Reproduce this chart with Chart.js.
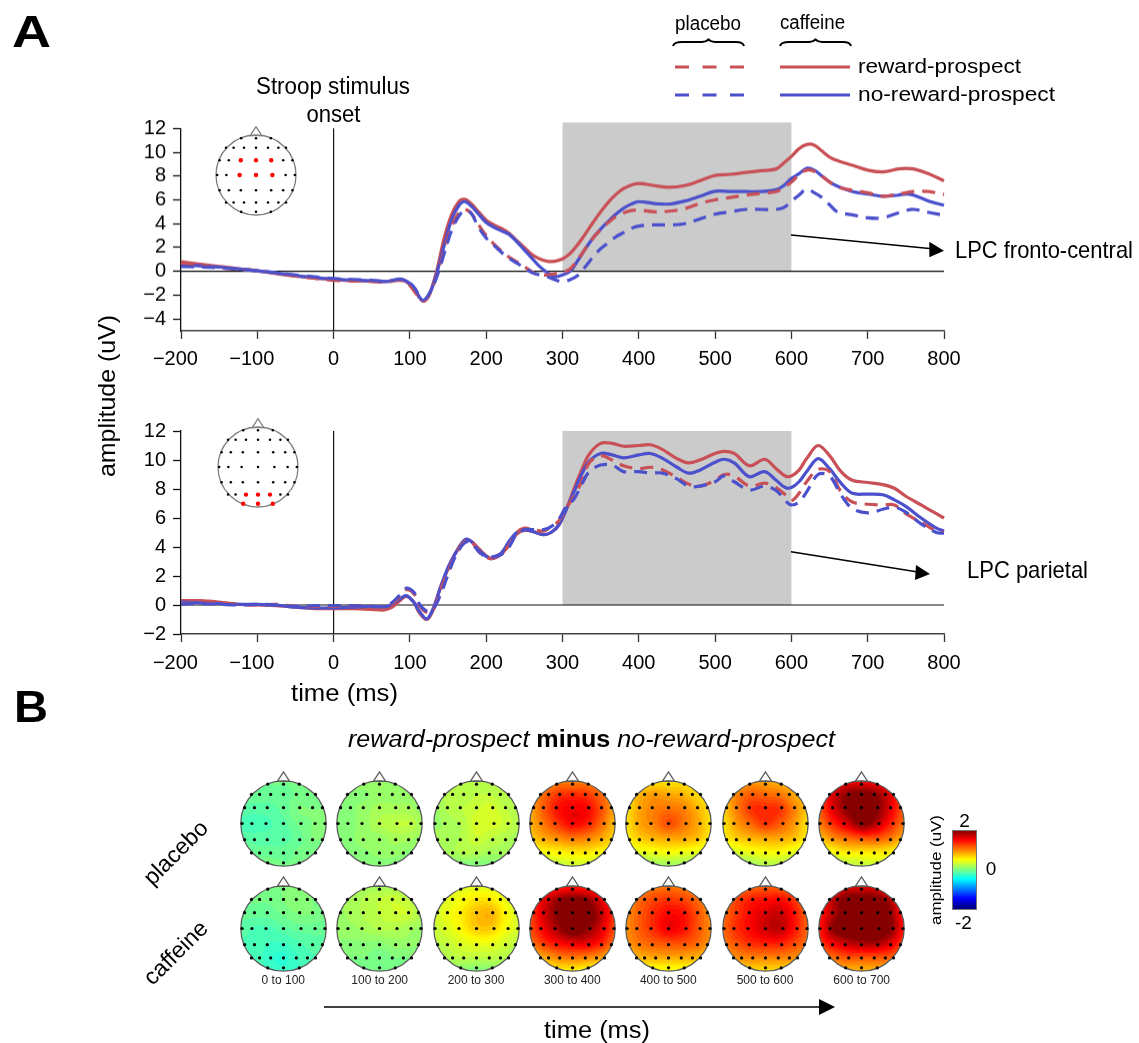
<!DOCTYPE html>
<html>
<head>
<meta charset="utf-8">
<title>Reward-prospect ERP figure</title>
<script src="https://cdn.jsdelivr.net/npm/chart.js@4"></script>
<style>
html,body{margin:0;padding:0;background:#fff;width:1139px;height:1043px;overflow:hidden}
canvas{position:absolute;display:block}
#cbar{outline:1px solid #777}
svg{position:absolute;left:0;top:0;pointer-events:none}
svg text{font-family:"Liberation Sans",Arial,sans-serif;fill:#000}
</style>
</head>
<body>
<canvas id="erpTop"></canvas>
<canvas id="erpBottom"></canvas>
<canvas id="cbar"></canvas>
<svg width="1139" height="1043" viewBox="0 0 1139 1043">
  <text x="12" y="47" font-size="45" font-weight="700" textLength="39" lengthAdjust="spacingAndGlyphs">A</text>
  <text x="14" y="722" font-size="45" font-weight="700" textLength="34" lengthAdjust="spacingAndGlyphs">B</text>

  <text x="675" y="30" font-size="20" textLength="66" lengthAdjust="spacingAndGlyphs">placebo</text>
  <text x="780" y="29" font-size="20" textLength="65" lengthAdjust="spacingAndGlyphs">caffeine</text>
  <path d="M673 46 Q674 42 682 42 L702 42 Q706 42 708.5 39.5 Q711 42 715 42 L736 42 Q743 42 744 46" fill="none" stroke="#000" stroke-width="2"/>
  <path d="M780 46 Q781 42 789 42 L809 42 Q813 42 815.5 39.5 Q818 42 822 42 L843 42 Q850 42 851 46" fill="none" stroke="#000" stroke-width="2"/>
  <line x1="675" y1="67" x2="744" y2="67" stroke="#c85056" stroke-width="3" stroke-dasharray="14 13.5"/>
  <line x1="675" y1="95" x2="744" y2="95" stroke="#4b50cc" stroke-width="3" stroke-dasharray="14 13.5"/>
  <line x1="780" y1="67" x2="850" y2="67" stroke="#c85056" stroke-width="3"/>
  <line x1="780" y1="95" x2="850" y2="95" stroke="#4b50cc" stroke-width="3"/>
  <text x="858" y="73" font-size="20.5" textLength="163" lengthAdjust="spacingAndGlyphs">reward-prospect</text>
  <text x="858" y="101" font-size="20.5" textLength="197" lengthAdjust="spacingAndGlyphs">no-reward-prospect</text>

  <text x="256" y="93.5" font-size="23.5" textLength="154" lengthAdjust="spacingAndGlyphs">Stroop stimulus</text>
  <text x="306.5" y="121.5" font-size="23.5" textLength="54" lengthAdjust="spacingAndGlyphs">onset</text>
  <text x="115" y="396" font-size="24" text-anchor="middle" textLength="162" lengthAdjust="spacingAndGlyphs" transform="rotate(-90 115 396)">amplitude (uV)</text>
  <text x="291" y="701" font-size="23" textLength="107" lengthAdjust="spacingAndGlyphs">time (ms)</text>

  <line x1="791" y1="235" x2="932" y2="248.8" stroke="#000" stroke-width="1.5"/>
  <polygon points="944,250.7 929.3,241.7 929.3,257.3" fill="#000"/>
  <text x="955" y="258" font-size="24" textLength="178" lengthAdjust="spacingAndGlyphs">LPC fronto-central</text>
  <line x1="791" y1="551.7" x2="918" y2="572" stroke="#000" stroke-width="1.5"/>
  <polygon points="930,574 916,565 915,580" fill="#000"/>
  <text x="967" y="578" font-size="24" textLength="121" lengthAdjust="spacingAndGlyphs">LPC parietal</text>

  <text x="348" y="747" font-size="23" textLength="487" lengthAdjust="spacingAndGlyphs"><tspan font-style="italic">reward-prospect </tspan><tspan font-weight="700">minus</tspan><tspan font-style="italic"> no-reward-prospect</tspan></text>
  <text x="176" y="860" font-size="23" text-anchor="middle" transform="rotate(-45 176 853)">placebo</text>
  <text x="176" y="960" font-size="23" text-anchor="middle" transform="rotate(-45 176 953)">caffeine</text>

  <g id="rangeLabels" font-size="12" text-anchor="middle"></g>

  <line x1="324" y1="1007" x2="822" y2="1007" stroke="#000" stroke-width="1.5"/>
  <polygon points="835,1007 819,999 819,1015" fill="#000"/>
  <text x="544" y="1038" font-size="23" textLength="106" lengthAdjust="spacingAndGlyphs">time (ms)</text>

  <text x="936" y="875" font-size="14.5" text-anchor="middle" transform="rotate(-90 936 870)" textLength="110" lengthAdjust="spacingAndGlyphs">amplitude (uV)</text>
  <text x="964.5" y="827" font-size="19" text-anchor="middle">2</text>
  <text x="991" y="874.5" font-size="19" text-anchor="middle">0</text>
  <text x="963.5" y="928.5" font-size="19" text-anchor="middle">-2</text>
</svg>

<script>
// ---------- Panel A, fronto-central ----------
const topTimes = [
  -200,-150,-100,-50,0,50,70,85,95,105,
  117,125,135,145,155,165,172,180,190,200,
  210,220,230,240,250,260,270,280,290,300,
  310,320,330,340,350,360,370,380,390,400,
  420,440,460,480,500,520,540,560,580,590,
  600,610,620,630,640,650,660,680,700,720,
  740,750,760,780,800];
const topCaffeineReward = [
  .8,.4,.05,-.4,-.7,-.85,-.85,-.75,-.85,-1.5,
  -2.5,-2.0,0,2.8,4.8,5.9,6.05,5.7,5.0,4.3,
  3.9,3.6,3.2,2.6,2.0,1.4,1.05,.85,.85,1.05,
  1.5,2.25,3.15,4.1,5.0,5.8,6.45,6.95,7.25,7.38,
  7.2,7.07,7.2,7.6,8.05,8.15,8.3,8.45,8.6,9.1,
  9.65,10.3,10.65,10.6,10.1,9.6,9.3,8.9,8.5,8.35,
  8.6,8.65,8.6,8.2,7.6];
const topCaffeineNoReward = [
  .55,.35,.05,-.35,-.65,-.8,-.85,-.7,-.8,-1.4,
  -2.45,-2.0,-.2,2.2,4.4,5.6,5.85,5.5,4.8,4.1,
  3.7,3.4,3.1,2.5,1.8,1.1,.4,-.1,-.45,-.3,
  0,.9,1.9,2.8,3.55,4.2,4.8,5.3,5.65,5.85,
  5.7,5.65,5.9,6.3,6.72,6.7,6.7,6.7,6.85,7.2,
  7.8,8.2,8.65,8.5,8.0,7.5,7.15,6.7,6.5,6.3,
  6.4,6.5,6.4,5.9,5.55];
const topPlaceboReward = [
  .7,.3,.05,-.4,-.75,-.85,-.9,-.7,-.85,-1.6,
  -2.5,-2.0,-.4,1.8,3.8,5.0,5.2,4.9,3.9,3.0,
  2.3,1.7,1.2,.8,.4,-.05,-.3,-.3,-.2,-.1,
  .2,1.0,1.9,2.8,3.5,4.1,4.6,4.9,5.1,5.15,
  5.0,5.05,5.25,5.7,6.0,6.2,6.4,6.55,6.7,7.05,
  7.5,8.1,8.5,8.4,8.0,7.5,7.1,6.8,6.6,6.3,
  6.5,6.6,6.7,6.7,6.45];
const topPlaceboNoReward = [
  .4,.3,.05,-.3,-.6,-.75,-.85,-.65,-.75,-1.3,
  -2.4,-1.9,-.5,1.5,3.5,4.7,5.1,4.9,3.7,2.8,
  2.2,1.6,1.1,.7,.3,-.1,-.3,-.45,-.7,-.87,
  -.7,-.35,.4,1.2,1.9,2.4,2.9,3.25,3.6,3.8,
  3.9,3.9,4.0,4.4,4.8,5.0,5.2,5.2,5.2,5.35,
  5.9,6.4,6.9,6.6,6.2,5.6,5.0,4.75,4.5,4.5,
  4.9,5.1,5.2,4.95,4.7];

// ---------- Panel A, parietal ----------
const bottomTimes = [
  -200,-175,-150,-125,-100,-75,-50,-25,0,25,
  50,65,75,85,95,105,112,122,130,140,
  150,160,172,180,190,200,207,220,230,240,
  250,262,275,285,295,305,315,325,335,350,
  365,380,400,415,430,450,465,480,500,512,
  525,545,565,580,592,600,610,620,635,650,
  665,680,700,720,735,750,770,790,800];
const bottomCaffeineReward = [
  .3,.3,.2,.05,0,-.05,-.15,-.25,-.25,-.25,
  -.3,-.35,-.2,.2,.6,.2,-.5,-1.0,-.4,1.2,
  2.5,3.6,4.45,4.4,3.9,3.4,3.2,3.5,4.2,4.9,
  5.15,5.05,4.85,5.0,5.5,6.6,8.0,9.3,10.4,11.15,
  11.15,10.95,11.0,11.05,10.75,10.1,9.8,10.0,10.45,10.6,
  10.45,9.6,10.05,9.4,8.9,8.9,9.3,10.1,11.0,10.3,
  9.2,8.6,8.45,8.3,8.05,7.5,6.9,6.3,6.0];
const bottomCaffeineNoReward = [
  .2,.15,.1,.05,.05,0,-.15,-.2,-.2,-.15,
  -.1,-.15,0,.35,.65,.2,-.4,-.95,-.3,1.2,
  2.6,3.6,4.5,4.4,3.8,3.35,3.2,3.6,4.4,5.0,
  5.2,5.05,4.85,5.0,5.5,6.6,7.8,9.0,9.9,10.45,
  10.35,10.15,10.35,10.45,10.15,9.5,9.1,9.3,9.85,10.05,
  9.8,8.85,9.2,8.6,8.1,8.1,8.5,9.2,10.1,9.4,
  8.4,7.7,7.65,7.6,7.25,6.8,6.0,5.3,5.1];
const bottomPlaceboReward = [
  .1,.15,.15,.05,0,.05,-.1,-.1,-.1,-.05,
  -.1,-.15,0,.5,1.05,.8,0,-.5,-.4,1.0,
  2.3,3.5,4.4,4.4,3.7,3.3,3.2,3.6,4.1,5.0,
  5.3,5.2,5.1,5.4,5.8,6.7,7.5,8.5,9.8,10.3,
  10.0,9.6,9.4,9.5,9.35,8.8,8.35,8.2,8.6,9.0,
  8.9,8.2,8.4,8.1,7.6,7.2,7.7,8.5,9.35,9.2,
  7.8,7.1,6.95,6.9,6.9,6.3,5.7,5.1,5.0];
const bottomPlaceboNoReward = [
  .05,.1,.05,0,.05,0,-.1,-.05,-.05,-.05,
  -.1,-.1,.1,.6,1.15,.9,.1,-.4,-.3,.7,
  2.1,3.4,4.3,4.3,3.7,3.3,3.3,3.5,4.0,4.9,
  5.2,5.2,5.2,5.4,5.9,6.8,7.3,8.3,9.2,9.65,
  9.65,9.2,9.2,9.1,9.1,8.7,8.2,8.2,8.5,8.9,
  8.5,7.93,8.2,7.9,7.2,6.9,7.1,7.8,9.0,8.9,
  7.6,6.65,6.35,6.6,6.75,6.4,5.6,5.0,4.95];

// ---------- Ticks ----------
const timeTicks = [-200,-100,0,100,200,300,400,500,600,700,800];
const topAmpTicks = [-4,-2,0,2,4,6,8,10,12];
const bottomAmpTicks = [-2,0,2,4,6,8,10,12];

// ---------- Panel B: amplitude read at 7x7 scalp nodes, rows front to back ----------
const rangeNames = ['0 to 100','100 to 200','200 to 300','300 to 400','400 to 500','500 to 600','600 to 700'];
const placebo000 = [[-.05,-.05,-.05,-.05,-.05,-.05,-.05],[-.1,-.1,-.1,-.1,-.05,-.05,-.05],[-.15,-.15,-.15,-.1,0,0,0],[-.2,-.25,-.2,-.15,-.05,0,0],[-.15,-.15,-.15,-.15,-.1,0,0],[-.05,-.1,-.1,-.1,-.05,-.05,-.05],[0,0,0,-.05,-.05,0,0]];
const placebo100 = [[.1,.1,.1,.1,.1,.1,.1],[.05,.05,.05,.1,.1,.1,.1],[.05,.05,.1,.15,.15,.15,.1],[.05,.05,.1,.2,.25,.25,.15],[.05,.05,.1,.1,.15,.15,.1],[.05,.05,.05,.1,.1,.05,.05],[0,0,0,0,0,0,0]];
const placebo200 = [[.2,.2,.2,.2,.2,.2,.2],[.15,.2,.2,.25,.25,.2,.2],[.1,.2,.25,.3,.35,.25,.2],[.1,.15,.2,.35,.35,.3,.2],[.15,.15,.2,.3,.25,.2,.15],[.1,.15,.2,.2,.15,.15,.1],[-.05,0,0,0,0,0,-.05]];
const placebo300 = [[.9,.9,1,1,1,.9,.9],[.9,1.1,1.3,1.35,1.3,1.1,.9],[.85,1.15,1.45,1.55,1.5,1.2,.85],[.8,1.05,1.3,1.5,1.4,1.1,.75],[.7,.85,.95,1.05,1,.85,.65],[.45,.5,.55,.6,.6,.5,.45],[.15,.2,.25,.3,.3,.2,.15]];
const placebo400 = [[.55,.55,.6,.6,.6,.55,.55],[.6,.8,.9,.85,.8,.65,.55],[.6,.85,1,1.05,1,.8,.6],[.6,.85,1,1.2,1.05,.85,.6],[.55,.7,.8,.85,.85,.75,.55],[.3,.4,.45,.5,.45,.4,.3],[0,.05,.1,.1,.1,.05,0]];
const placebo500 = [[.8,.8,.9,.85,.8,.75,.7],[.8,1,1.15,1.1,1.05,.85,.7],[.7,1,1.3,1.35,1.3,1,.7],[.6,.9,1.1,1.3,1.15,.9,.6],[.55,.7,.8,.85,.85,.75,.55],[.25,.35,.45,.5,.5,.4,.3],[0,.05,.1,.2,.2,.15,.1]];
const placebo600 = [[1.35,1.45,1.55,1.55,1.5,1.35,1.2],[1.25,1.65,1.95,2.05,1.95,1.6,1.2],[1.15,1.6,1.95,2.1,2,1.6,1.15],[1,1.35,1.65,2,1.8,1.4,1.05],[.75,.95,1.1,1.2,1.2,1.05,.8],[.4,.5,.6,.6,.6,.55,.4],[.1,.15,.2,.25,.3,.2,.15]];
const caffeine000 = [[0,0,0,0,0,0,0],[-.05,-.05,-.05,0,.05,0,-.05],[-.1,-.1,-.1,-.05,0,0,-.05],[-.15,-.2,-.2,-.15,-.1,-.1,-.1],[-.2,-.2,-.25,-.25,-.2,-.15,-.15],[-.2,-.2,-.3,-.33,-.25,-.2,-.15],[-.2,-.2,-.25,-.3,-.25,-.2,-.15]];
const caffeine100 = [[.1,.1,.15,.15,.15,.1,.1],[.1,.15,.2,.25,.3,.25,.15],[.1,.15,.2,.25,.3,.3,.15],[.1,.1,.15,.2,.2,.15,.1],[.05,.05,.05,.05,.1,.1,.05],[.05,0,0,-.05,0,0,.05],[.05,0,-.05,-.05,0,0,.05]];
const caffeine200 = [[.33,.33,.38,.38,.38,.33,.3],[.33,.38,.48,.6,.6,.43,.3],[.33,.43,.58,.75,.8,.53,.33],[.28,.38,.53,.7,.7,.48,.33],[.23,.28,.38,.43,.43,.33,.23],[.15,.2,.25,.25,.25,.2,.15],[.05,.05,.05,0,.05,.05,.05]];
const caffeine300 = [[1.25,1.3,1.35,1.4,1.35,1.25,1.15],[1.3,1.6,1.9,2.05,1.95,1.6,1.3],[1.25,1.65,2,2.2,2.15,1.75,1.3],[1.2,1.55,1.85,2.15,1.95,1.65,1.2],[1.05,1.3,1.5,1.6,1.6,1.4,1.05],[.75,.85,1,1.05,1,.9,.7],[.4,.5,.55,.55,.5,.45,.4]];
const caffeine400 = [[.9,.95,1,1.05,1,.95,.85],[.95,1.1,1.25,1.3,1.25,1.1,.9],[.95,1.15,1.35,1.5,1.45,1.2,.95],[.95,1.15,1.35,1.55,1.45,1.2,.95],[.9,1.05,1.15,1.2,1.2,1.1,.9],[.7,.8,.85,.85,.85,.8,.7],[.4,.45,.45,.45,.45,.45,.4]];
const caffeine500 = [[1,1.05,1.1,1.15,1.1,1.05,.95],[1.05,1.25,1.4,1.45,1.5,1.3,1.05],[1.1,1.3,1.5,1.65,1.7,1.45,1.1],[1.1,1.35,1.5,1.7,1.75,1.45,1.1],[1.05,1.2,1.35,1.4,1.4,1.25,1.05],[.85,.95,1,1,1,.95,.85],[.6,.65,.65,.65,.65,.65,.6]];
const caffeine600 = [[1.35,1.45,1.6,1.6,1.6,1.4,1.3],[1.4,1.75,2.05,2.1,2.05,1.8,1.35],[1.4,1.8,2.1,2.2,2.2,1.95,1.4],[1.4,1.95,2.2,2.2,2.2,2,1.45],[1.3,1.55,1.75,1.85,1.85,1.65,1.25],[1,1.1,1.2,1.2,1.2,1.15,1],[.7,.8,.8,.8,.8,.8,.7]];

// ---------- Electrode montage (unit circle) ----------
const electrodeRows = [
  [.92,[-.37,0,.37]],
  [.68,[-.75,-.56,-.30,0,.30,.56,.75]],
  [.37,[-.91,-.68,-.38,0,.38,.68,.91]],
  [0,[-.97,-.74,-.41,0,.41,.74,.97]],
  [-.38,[-.91,-.68,-.38,0,.38,.68,.91]],
  [-.69,[-.75,-.56,-.30,0,.30,.56,.75]],
  [-.92,[-.37,0,.37]]
];
const frontoCentralSites = [[-.38,.37],[0,.37],[.38,.37],[-.41,0],[0,0],[.41,0]];
const parietalSites = [[-.30,-.69],[0,-.69],[.30,-.69],[-.37,-.92],[0,-.92],[.37,-.92]];

const FONT = '"Liberation Sans", Arial, sans-serif';
const RED = '#c85056', BLUE = '#4b50cc', DASH = [13,8];
const minus = v => String(v).replace('-', '\u2212');
const xTickLabel = v => v < 0 ? minus(v) + '\u00a0\u00a0' : String(v);

function jet(t){
  const c = x => Math.max(0, Math.min(1, x));
  return [c(Math.min(4*t-1.5, -4*t+4.5)), c(Math.min(4*t-.5, -4*t+3.5)), c(Math.min(4*t+.5, -4*t+2.5))].map(x => Math.round(x*255));
}
function jetLevel(v){
  const n = Math.max(0, Math.min(63, Math.floor((v+2)/4*64)));
  return jet((n+.5)/64);
}

// ---------- ERP panels ----------
const erpDecor = {
  id:'erpDecor',
  beforeDatasetsDraw(chart, args, o){
    const {ctx, scales:{x,y}} = chart;
    ctx.save();
    ctx.fillStyle = '#cbcbcb';
    const l = x.getPixelForValue(o.shade[0]), r = x.getPixelForValue(o.shade[1]);
    const t = y.getPixelForValue(o.shade[2]), b = y.getPixelForValue(o.shade[3]);
    ctx.fillRect(l, t, r-l, b-t);
    ctx.strokeStyle = '#111'; ctx.lineWidth = 1.2;
    ctx.beginPath();
    ctx.moveTo(x.left, y.getPixelForValue(0)); ctx.lineTo(x.right, y.getPixelForValue(0));
    ctx.moveTo(x.getPixelForValue(0), y.top); ctx.lineTo(x.getPixelForValue(0), y.bottom);
    ctx.stroke();
    ctx.restore();
  }
};

function erp(id, cssTop, plotTop, plotBottom, yMin, yMax, yTicks, shade, labelPad, times, cr, cb, pr, pb){
  const cv = document.getElementById(id);
  const xH = 42;
  const h = plotBottom - cssTop + xH;
  cv.style.left = '0px'; cv.style.top = cssTop+'px';
  cv.style.width = '1139px'; cv.style.height = h+'px';
  cv.width = 1139; cv.height = h;
  const pts = arr => arr.map((v,i)=>({x:times[i], y:v}));
  const line = (label, arr, color, dash, order) => ({label, data:pts(arr), borderColor:color, borderWidth:3.2, borderDash:dash, pointRadius:0, tension:.35, fill:false, order, borderJoinStyle:'round', clip:false});
  new Chart(cv, {
    type:'line',
    data:{datasets:[
      line('placebo no-reward-prospect', pb, BLUE, DASH, 0),
      line('placebo reward-prospect', pr, RED, DASH, 1),
      line('caffeine no-reward-prospect', cb, BLUE, [], 2),
      line('caffeine reward-prospect', cr, RED, [], 3)
    ]},
    plugins:[erpDecor],
    options:{
      responsive:false, animation:false, events:[],
      layout:{autoPadding:false, padding:{left:0, right:1139-944, top:plotTop-cssTop, bottom:0}},
      plugins:{legend:{display:false}, tooltip:{enabled:false}, erpDecor:{shade}},
      scales:{
        x:{type:'linear', min:-200, max:800,
          afterBuildTicks:s=>{s.ticks = timeTicks.map(v=>({value:v}));},
          afterFit:s=>{s.height = xH;},
          grid:{display:true, drawOnChartArea:false, drawTicks:true, tickLength:8, tickWidth:1.3, tickColor:'#333'},
          border:{display:true, color:'#444', width:1.5},
          ticks:{autoSkip:false, maxRotation:0, padding:labelPad, color:'#000', font:{family:FONT, size:20}, callback:xTickLabel}},
        y:{type:'linear', min:yMin, max:yMax,
          afterBuildTicks:s=>{s.ticks = yTicks.map(v=>({value:v}));},
          afterFit:s=>{s.width = 181;},
          grid:{display:true, drawOnChartArea:false, drawTicks:true, tickLength:8, tickWidth:1.3, tickColor:'#111'},
          border:{display:true, color:'#111', width:1.3},
          ticks:{autoSkip:false, padding:7, color:'#000', font:{family:FONT, size:20}, callback:minus}}
      }
    }
  });
}
erp('erpTop', 100, 128.3, 330.7, -5, 12, topAmpTicks, [300,600,12.5,0], 8, topTimes, topCaffeineReward, topCaffeineNoReward, topPlaceboReward, topPlaceboNoReward);
erp('erpBottom', 405, 431, 634, -2, 12, bottomAmpTicks, [300,600,12,0], 9, bottomTimes, bottomCaffeineReward, bottomCaffeineNoReward, bottomPlaceboReward, bottomPlaceboNoReward);

// ---------- Scalp maps ----------
function catmull(p0,p1,p2,p3,t){
  return .5*((2*p1)+(-p0+p2)*t+(2*p0-5*p1+4*p2-p3)*t*t+(-p0+3*p1-3*p2+p3)*t*t*t);
}
const scalpPlugin = {
  id:'scalp',
  beforeDatasetsDraw(chart, args, o){
    const {ctx, scales:{x,y}} = chart;
    const cx = x.getPixelForValue(0), cy = y.getPixelForValue(0);
    const R = x.getPixelForValue(1) - cx;
    const heat = chart.data.datasets.find(d=>d.isField);
    if (heat){
      const N = 7, vals = [];
      heat.data.forEach(p=>{ vals.push(p.v); });
      const at = (r,c)=>vals[Math.max(0,Math.min(N-1,r))*N + Math.max(0,Math.min(N-1,c))];
      const S = Math.ceil(2*R)+2, x0 = Math.floor(cx-R)-1, y0 = Math.floor(cy-R)-1;
      const off = document.createElement('canvas'); off.width = S; off.height = S;
      const oc = off.getContext('2d'), img = oc.createImageData(S,S);
      for (let j=0;j<S;j++) for (let i=0;i<S;i++){
        const ux = x.getValueForPixel(x0+i+.5), uy = y.getValueForPixel(y0+j+.5);
        const fc = (ux+1)*3, fr = (1-uy)*3;
        const c = Math.floor(fc), r = Math.floor(fr), tc = fc-c, tr = fr-r;
        const rowv = [];
        for (let k=-1;k<=2;k++) rowv.push(catmull(at(r+k,c-1),at(r+k,c),at(r+k,c+1),at(r+k,c+2),tc));
        const col = jetLevel(catmull(rowv[0],rowv[1],rowv[2],rowv[3],tr));
        const q = (j*S+i)*4;
        img.data[q]=col[0]; img.data[q+1]=col[1]; img.data[q+2]=col[2]; img.data[q+3]=255;
      }
      oc.putImageData(img,0,0);
      ctx.save();
      ctx.beginPath(); ctx.arc(cx,cy,R,0,Math.PI*2); ctx.clip();
      ctx.drawImage(off,x0,y0);
      ctx.restore();
    }
    ctx.save();
    ctx.fillStyle = '#fff'; ctx.strokeStyle = o.outline; ctx.lineWidth = 1.3;
    ctx.beginPath();
    ctx.moveTo(x.getPixelForValue(-.145), y.getPixelForValue(.985));
    ctx.lineTo(cx, y.getPixelForValue(1.21));
    ctx.lineTo(x.getPixelForValue(.145), y.getPixelForValue(.985));
    ctx.closePath(); if(!heat) ctx.fill(); ctx.stroke();
    ctx.beginPath(); ctx.arc(cx,cy,R,0,Math.PI*2); ctx.stroke();
    ctx.restore();
  }
};

function scalp(cx, cy, R, field, marked, dotR){
  const ext = 1.3, size = Math.round(2*R*ext);
  const cv = document.createElement('canvas');
  cv.width = size; cv.height = size;
  cv.style.left = (cx-size/2)+'px'; cv.style.top = (cy-size/2)+'px';
  cv.style.width = size+'px'; cv.style.height = size+'px';
  document.body.appendChild(cv);
  const sites = [];
  electrodeRows.forEach(([yy,xs])=>xs.forEach(xx=>{
    if (!marked.some(m=>Math.abs(m[0]-xx)<.02 && Math.abs(m[1]-yy)<.02)) sites.push({x:xx,y:yy});
  }));
  const datasets = [
    {label:'electrodes', data:sites, pointRadius:dotR, pointBackgroundColor:'#000', pointBorderWidth:0, showLine:false, clip:false}
  ];
  if (marked.length) datasets.unshift({label:'selected', data:marked.map(m=>({x:m[0],y:m[1]})), pointRadius:2.2, pointBackgroundColor:'#f00', pointBorderWidth:0, showLine:false, clip:false});
  if (field){
    const nodes = [];
    field.forEach((row,r)=>row.forEach((v,c)=>nodes.push({x:-1+c/3, y:1-r/3, v})));
    datasets.push({label:'amplitude', isField:true, data:nodes, pointRadius:0, showLine:false});
  }
  new Chart(cv, {
    type:'scatter',
    data:{datasets},
    plugins:[scalpPlugin],
    options:{
      responsive:false, animation:false, events:[],
      layout:{autoPadding:false, padding:0},
      plugins:{legend:{display:false}, tooltip:{enabled:false}, scalp:{outline: field ? '#5c5c5c' : '#808080'}},
      scales:{
        x:{type:'linear', min:-ext, max:ext, display:false},
        y:{type:'linear', min:-ext, max:ext, display:false}
      }
    }
  });
}
scalp(256, 175, 40, null, frontoCentralSites, 1.25);
scalp(258, 466.7, 40, null, parietalSites, 1.25);

const mapX = [283.3, 379.7, 476, 572.3, 668.3, 765, 861.7];
const placeboMaps = [placebo000,placebo100,placebo200,placebo300,placebo400,placebo500,placebo600];
const caffeineMaps = [caffeine000,caffeine100,caffeine200,caffeine300,caffeine400,caffeine500,caffeine600];
mapX.forEach((mx,i)=>{
  scalp(mx, 823.3, 42.7, placeboMaps[i], [], 1.6);
  scalp(mx, 928, 42.7, caffeineMaps[i], [], 1.6);
  const t = document.createElementNS('http://www.w3.org/2000/svg','text');
  t.setAttribute('x', mx); t.setAttribute('y', 984); t.textContent = rangeNames[i];
  t.style.fill = '#222';
  document.getElementById('rangeLabels').appendChild(t);
});

// ---------- Colour bar ----------
const colorbarLevels = Array.from({length:64},(_,i)=>2-(i+.5)/16);
(function(){
  const cv = document.getElementById('cbar');
  cv.width = 23; cv.height = 78;
  cv.style.left = '953px'; cv.style.top = '831px'; cv.style.width='23px'; cv.style.height='78px';
  new Chart(cv,{
    type:'bar',
    data:{labels:colorbarLevels.map(String), datasets:[{data:colorbarLevels.map(()=>1),
      backgroundColor:colorbarLevels.map(v=>{const c=jetLevel(v);return `rgb(${c[0]},${c[1]},${c[2]})`;}),
      barThickness:2, borderWidth:0}]},
    options:{indexAxis:'y', responsive:false, animation:false, events:[], layout:{autoPadding:false, padding:0},
      plugins:{legend:{display:false}, tooltip:{enabled:false}},
      scales:{x:{display:false,min:0,max:1}, y:{display:false, offset:true}}}
  });
})();
</script>
</body>
</html>
